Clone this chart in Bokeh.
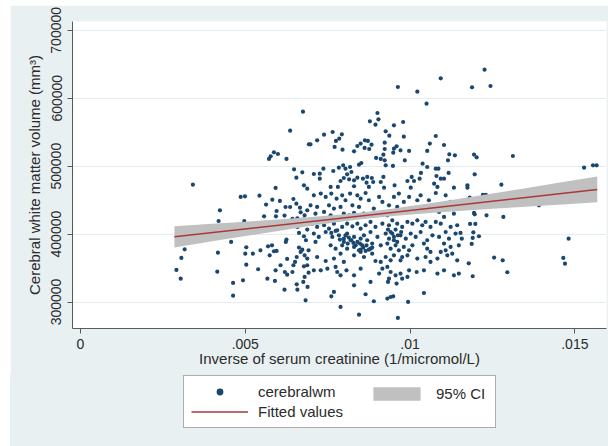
from bokeh.plotting import figure
from bokeh.models import Range1d, FixedTicker, Legend, LegendItem
from bokeh.layouts import column
from bokeh.embed import file_html
from bokeh.resources import INLINE

# ---- data: (inverse serum creatinine, cerebral white matter volume) ----
wm_pts = [
    (0.00675, 580300), (0.00636, 552300), (0.00693, 532200), (0.00587, 520400), (0.00599, 517900),
    (0.00577, 514500), (0.00572, 510600), (0.00625, 510600), (0.00648, 495400), (0.00673, 491000),
    (0.00655, 483100), (0.00341, 472800), (0.00592, 467900), (0.00678, 471800), (0.00688, 466900),
    (0.00486, 454700), (0.00499, 455600), (0.00543, 456600), (0.00423, 435000), (0.00419, 419300),
    (0.00497, 419300), (0.00563, 443400), (0.00582, 450700), (0.00605, 448800), (0.00622, 439900),
    (0.00636, 439900), (0.00646, 451700), (0.00655, 444800), (0.00666, 438900), (0.00668, 432100),
    (0.00688, 435000), (0.00680, 427700), (0.00595, 434000), (0.00593, 426200), (0.00557, 426200),
    (0.00619, 427200), (0.00643, 422300), (0.00658, 423300), (0.00676, 421300), (0.00692, 415400),
    (0.00658, 410500), (0.00663, 401700), (0.00688, 406600), (0.00678, 396800), (0.00684, 390900),
    (0.00625, 391900), (0.00623, 388400), (0.00457, 388400), (0.00316, 377600), (0.00306, 364900),
    (0.00291, 347200), (0.00304, 334400), (0.00417, 372700), (0.00415, 344700), (0.00503, 380600),
    (0.00500, 371200), (0.00523, 371200), (0.00546, 376100), (0.00569, 382000), (0.00581, 383500),
    (0.00574, 368800), (0.00587, 374700), (0.00595, 375200), (0.00503, 355000), (0.00539, 348200),
    (0.00463, 328100), (0.00493, 332000), (0.00463, 309400), (0.00567, 334400), (0.00590, 331000),
    (0.00592, 346700), (0.00607, 354100), (0.00627, 363400), (0.00620, 344200), (0.00627, 340300),
    (0.00619, 318200), (0.00656, 326100), (0.00658, 318200), (0.00646, 354100), (0.00651, 359000),
    (0.00656, 366300), (0.00663, 380100), (0.00668, 373700), (0.00673, 377100), (0.00692, 376100),
    (0.00680, 368800), (0.00688, 363900), (0.00688, 354100), (0.00678, 352600), (0.00692, 343200),
    (0.00680, 336900), (0.00676, 329500), (0.00689, 322200), (0.00683, 302500), (0.00643, 344200),
    (0.01093, 629300), (0.00963, 616600), (0.01022, 609700), (0.01050, 592000), (0.00901, 578300),
    (0.00904, 569000), (0.00878, 566000), (0.00895, 561100), (0.00979, 565000), (0.00951, 560200),
    (0.00926, 551300), (0.00937, 544900), (0.00981, 543500), (0.01078, 544400), (0.00765, 550300),
    (0.00739, 546400), (0.00718, 538100), (0.00698, 532200), (0.00793, 546900), (0.00785, 540500),
    (0.00775, 537100), (0.00771, 528300), (0.00795, 524300), (0.00830, 521900), (0.00840, 529700),
    (0.00850, 533200), (0.00863, 538100), (0.00872, 537100), (0.00883, 531700), (0.00876, 525300),
    (0.00862, 526800), (0.00923, 534600), (0.00923, 525300), (0.00951, 525800), (0.00959, 529200),
    (0.00971, 523300), (0.00997, 522400), (0.00984, 508600), (0.00949, 519900), (0.00919, 516900),
    (0.00923, 508600), (0.00911, 510600), (0.00897, 512100), (0.00926, 501300), (0.00948, 500300),
    (0.00852, 504700), (0.00845, 502200), (0.00797, 501300), (0.00784, 497800), (0.00804, 496300),
    (0.00818, 498800), (0.00822, 491400), (0.00809, 488000), (0.00737, 496300), (0.00726, 488900),
    (0.00708, 488500), (0.00726, 481600), (0.00767, 492900), (0.00789, 478200), (0.00799, 482600),
    (0.00815, 480700), (0.00830, 479200), (0.00840, 483100), (0.00857, 481600), (0.00870, 484100),
    (0.00884, 482600), (0.00888, 476700), (0.00868, 475700), (0.00911, 476700), (0.00919, 484100),
    (0.00953, 471800), (0.00992, 478200), (0.01005, 484100), (0.01012, 478200), (0.01029, 481600),
    (0.01033, 490000), (0.01038, 503700), (0.01052, 498800), (0.01052, 522400), (0.01060, 533200),
    (0.01078, 496300), (0.01086, 496300), (0.01080, 485500), (0.01093, 481600), (0.01103, 481600),
    (0.01117, 490000), (0.01115, 508600), (0.01119, 517400), (0.01136, 515900), (0.01103, 531200),
    (0.01073, 474300), (0.01083, 469400), (0.00759, 469400), (0.00781, 469400), (0.00830, 470400),
    (0.00875, 469400), (0.00921, 468400), (0.01002, 468400), (0.01133, 468400),
    (0.00708, 457100), (0.00729, 459600), (0.00744, 454700), (0.00761, 459600), (0.00777, 452200),
    (0.00794, 457100), (0.00804, 449800), (0.00818, 459600), (0.00840, 457100), (0.00850, 452200),
    (0.00865, 460500), (0.00875, 449800), (0.00906, 454700), (0.00916, 447300), (0.00936, 442400),
    (0.00951, 454700), (0.00966, 459600), (0.00981, 447300), (0.00997, 454700), (0.01022, 449800),
    (0.01032, 457100), (0.01057, 449800), (0.01078, 460500), (0.01108, 457100), (0.01123, 447300),
    (0.01143, 444800), (0.00698, 442400), (0.00718, 440000), (0.00754, 442400), (0.00769, 437500),
    (0.00789, 440000), (0.00825, 442400), (0.00845, 440000), (0.00890, 437500), (0.00961, 440000),
    (0.01002, 437500), (0.01047, 437500), (0.00713, 430100), (0.00739, 432600), (0.00759, 427700),
    (0.00799, 430100), (0.00815, 427700), (0.00830, 431100), (0.00860, 430100), (0.00906, 429100),
    (0.00931, 427700), (0.01088, 432600), (0.01103, 425200), (0.01133, 430100),
    (0.00703, 415400), (0.00718, 410500), (0.00739, 413000), (0.00754, 408000), (0.00769, 415400),
    (0.00779, 405600), (0.00794, 410500), (0.00809, 415400), (0.00825, 411500), (0.00840, 415400),
    (0.00850, 408000), (0.00865, 413000), (0.00880, 417900), (0.00895, 410500), (0.00916, 415400),
    (0.00936, 413000), (0.00946, 420300), (0.00961, 415400), (0.00976, 410500), (0.00992, 417900),
    (0.01007, 415400), (0.01022, 420300), (0.01037, 413000), (0.01047, 417900), (0.01062, 410500),
    (0.01078, 417900), (0.01093, 415400), (0.01108, 403100), (0.01123, 410500), (0.01143, 413000),
    (0.00708, 400700), (0.00723, 395800), (0.00744, 403100), (0.00764, 395800), (0.00784, 398200),
    (0.00799, 393300), (0.00809, 400700), (0.00820, 390900), (0.00830, 395800), (0.00840, 388400),
    (0.00850, 393300), (0.00860, 398200), (0.00870, 390900), (0.00880, 403100), (0.00885, 386000),
    (0.00901, 395800), (0.00926, 400700), (0.00936, 393300), (0.00941, 403100), (0.00951, 395800),
    (0.00961, 388400), (0.00971, 398200), (0.00987, 393300), (0.01002, 400700), (0.01017, 395800),
    (0.01032, 403100), (0.01052, 390900), (0.01068, 398200), (0.01088, 395800), (0.01103, 386000),
    (0.01118, 393300), (0.01138, 400700),
    (0.00713, 388400), (0.00759, 383500), (0.00774, 378600), (0.00794, 383500), (0.00809, 378600),
    (0.00830, 381100), (0.00845, 376100), (0.00855, 383500), (0.00865, 375200), (0.00880, 378600),
    (0.00911, 383500), (0.00931, 386000), (0.00941, 378600), (0.00956, 383500), (0.00966, 376100),
    (0.00981, 381100), (0.00997, 376100), (0.01007, 383500), (0.01042, 386000), (0.01052, 378600),
    (0.01062, 373700), (0.01093, 373700), (0.01108, 376100), (0.01123, 381100), (0.01148, 383500),
    (0.00718, 366300), (0.00744, 360400), (0.00769, 363900), (0.00789, 371200), (0.00799, 359000),
    (0.00830, 368800), (0.00850, 373700), (0.00860, 366300), (0.00885, 371200), (0.00895, 360400),
    (0.00911, 359000), (0.00926, 366300), (0.00941, 361400), (0.00951, 368800), (0.00971, 361400),
    (0.00976, 366300), (0.00992, 368800), (0.01022, 363900), (0.01047, 366300), (0.01062, 359000),
    (0.01083, 363900), (0.01113, 368800), (0.01128, 371200), (0.01143, 361400),
    (0.00708, 346700), (0.00729, 346700), (0.00749, 349100), (0.00774, 351600), (0.00779, 344200),
    (0.00789, 339300), (0.00807, 346700), (0.00830, 339300), (0.00850, 349100), (0.00880, 329500),
    (0.00906, 341800), (0.00916, 349100), (0.00931, 351600), (0.00941, 344200), (0.00936, 334400),
    (0.00956, 339300), (0.00971, 341800), (0.00992, 336900), (0.00997, 346700), (0.00976, 334400),
    (0.01020, 344200), (0.01042, 346700), (0.01083, 341800), (0.01103, 346700), (0.01133, 339300),
    (0.01148, 341800),
    (0.00830, 324600), (0.00933, 329500), (0.00959, 327100), (0.00769, 314800), (0.00761, 308400),
    (0.00865, 311400), (0.00890, 301100), (0.00931, 305000), (0.00941, 307400), (0.00949, 308400),
    (0.00994, 300100), (0.01042, 313300), (0.00789, 292700), (0.00845, 281400), (0.00963, 276500),
    (0.00804, 398200), (0.00814, 394800), (0.00822, 390900), (0.00828, 387000), (0.00811, 386000),
    (0.00835, 383500), (0.00799, 388400), (0.00848, 386000), (0.00858, 380100), (0.00868, 383500),
    (0.00875, 377100), (0.00850, 377100), (0.00885, 380100), (0.00933, 406600), (0.00946, 400700),
    (0.00956, 406600), (0.00963, 398200), (0.00951, 390900), (0.00973, 403100), (0.00761, 401700),
    (0.00774, 404600), (0.00787, 391900),
    (0.01226, 642100), (0.01188, 616100), (0.01244, 618000), (0.01194, 517000), (0.01202, 513000),
    (0.01312, 515000), (0.01528, 497800), (0.01555, 501300), (0.01566, 501300), (0.01196, 488000),
    (0.01174, 471800), (0.01174, 468400), (0.01277, 472800),
    (0.01181, 453700), (0.01221, 457600), (0.01230, 457600), (0.01194, 431100), (0.01196, 429100),
    (0.01232, 427700), (0.01283, 425200), (0.01182, 414900), (0.01198, 414900), (0.01153, 401700),
    (0.01192, 402600), (0.01209, 396800), (0.01190, 394300), (0.01157, 393300), (0.01187, 385500),
    (0.01481, 393300), (0.01255, 365400), (0.01281, 361400), (0.01178, 357000), (0.01465, 364900),
    (0.01470, 356500), (0.01295, 343800), (0.01190, 337900), (0.01391, 442400),
]
wm_x = [p_[0] for p_ in wm_pts]
wm_y = [p_[1] for p_ in wm_pts]

# fitted line
fit_x = [0.00285, 0.01568]
fit_y = [396000, 465800]

# 95% CI band
ci_x = [0.00285, 0.004, 0.005, 0.006, 0.007, 0.008, 0.0086, 0.0095, 0.0105, 0.0115, 0.0125, 0.0135, 0.0145, 0.01568]
ci_lo = [380300, 389300, 397100, 404700, 412100, 418800, 422300, 426700, 430600, 434100, 437200, 440300, 443300, 446800]
ci_hi = [411700, 415200, 418300, 421500, 425100, 429200, 432300, 437700, 444600, 452100, 459800, 467500, 475500, 484800]

x_ticks = [0, 0.005, 0.01, 0.015]
x_tick_labels = ["0", ".005", ".01", ".015"]
y_ticks = [300000, 400000, 500000, 600000, 700000]
y_tick_labels = ["300000", "400000", "500000", "600000", "700000"]

FONT = "Liberation Sans"
TXT = "#2b2b2b"
AX = "#5a5a5a"
BG = "#e8f0f2"
PT_COLOR = "#1a476f"
CI_COLOR = "#c0c0c0"
FIT_COLOR = "#a8383b"
PT_SIZE = 4.2
TITLE_SIZE = "15px"

# ---------------- main plot ----------------
p = figure(width=598, height=369, output_backend="svg", toolbar_location=None,
           x_range=Range1d(-0.000243, 0.01596), y_range=Range1d(261000, 713000),
           min_border_left=62, min_border_right=2, min_border_top=16, min_border_bottom=46,
           background_fill_color="white", border_fill_color=BG)
p.margin = (5, 0, 0, 10)
p.outline_line_color = None

p.scatter(wm_x, wm_y, size=PT_SIZE, marker="circle", fill_color=PT_COLOR, line_color=None)
p.varea(x=ci_x, y1=ci_lo, y2=ci_hi, fill_color=CI_COLOR)
p.line(fit_x, fit_y, line_color=FIT_COLOR, line_width=1.5)

p.xgrid.visible = False
p.ygrid.ticker = FixedTicker(ticks=y_ticks)
p.ygrid.grid_line_color = "#e3ecef"
p.ygrid.grid_line_width = 1

p.xaxis.ticker = FixedTicker(ticks=x_ticks)
p.xaxis.major_label_overrides = dict(zip(x_ticks, x_tick_labels))
p.yaxis.ticker = FixedTicker(ticks=y_ticks)
p.yaxis.major_label_overrides = dict(zip(y_ticks, y_tick_labels))
p.yaxis.major_label_orientation = "vertical"

for ax in (p.xaxis[0], p.yaxis[0]):
    ax.axis_line_color = AX
    ax.major_tick_line_color = AX
    ax.minor_tick_line_color = None
    ax.major_tick_out = 5
    ax.major_tick_in = 0
    ax.major_label_text_font = FONT
    ax.major_label_text_font_size = "14px"
    ax.major_label_text_color = TXT
    ax.axis_label_text_font = FONT
    ax.axis_label_text_font_size = TITLE_SIZE
    ax.axis_label_text_font_style = "normal"
    ax.axis_label_text_color = TXT

p.xaxis.axis_label = "Inverse of serum creatinine (1/micromol/L)"
p.yaxis.axis_label = "Cerebral white matter volume (mm\u00b3)"
p.xaxis.major_label_standoff = 5
p.xaxis.axis_label_standoff = -2
p.yaxis.major_label_standoff = 6
p.yaxis.axis_label_standoff = 6

# ---------------- legend strip (same series, all outside this strip's ranges) ----------------
pl = figure(width=598, height=72, output_backend="svg", toolbar_location=None,
            x_axis_type=None, y_axis_type=None, min_border=0,
            x_range=Range1d(0, 1), y_range=Range1d(0, 1),
            background_fill_color=BG, border_fill_color=BG)
pl.background_fill_alpha = 0.0
pl.border_fill_alpha = 0.0
pl.styles = {"background-color": BG}
pl.margin = (0, 0, 0, 10)
pl.outline_line_color = None
pl.grid.visible = False
l_pts = pl.scatter(wm_x, wm_y, size=PT_SIZE, marker="circle", fill_color=PT_COLOR, line_color=None)
l_ci = pl.varea(x=ci_x, y1=ci_lo, y2=ci_hi, fill_color=CI_COLOR)
l_fit = pl.line(fit_x, fit_y, line_color=FIT_COLOR, line_width=1.5)

leg_a = Legend(items=[LegendItem(label="cerebralwm", renderers=[l_pts]),
                      LegendItem(label="Fitted values", renderers=[l_fit])],
               location=(111, 18), orientation="vertical", spacing=3, padding=7, margin=0,
               glyph_width=57, glyph_height=17, label_height=17, label_standoff=10,
               label_width=230, border_line_color=AX, border_line_width=1,
               background_fill_color="white", background_fill_alpha=1.0,
               label_text_font=FONT, label_text_font_size=TITLE_SIZE, label_text_color=TXT)
leg_b = Legend(items=[LegendItem(label="95% CI", renderers=[l_ci])],
               location=(295, 44), orientation="vertical", spacing=0, padding=0, margin=0,
               glyph_width=59, glyph_height=17, label_height=17, label_standoff=10,
               border_line_color=None, background_fill_alpha=0.0,
               label_text_font=FONT, label_text_font_size=TITLE_SIZE, label_text_color=TXT)
pl.add_layout(leg_a)
pl.add_layout(leg_b)

layout = column(p, pl, spacing=0)
open("out.html", "w").write(file_html(layout, INLINE))
